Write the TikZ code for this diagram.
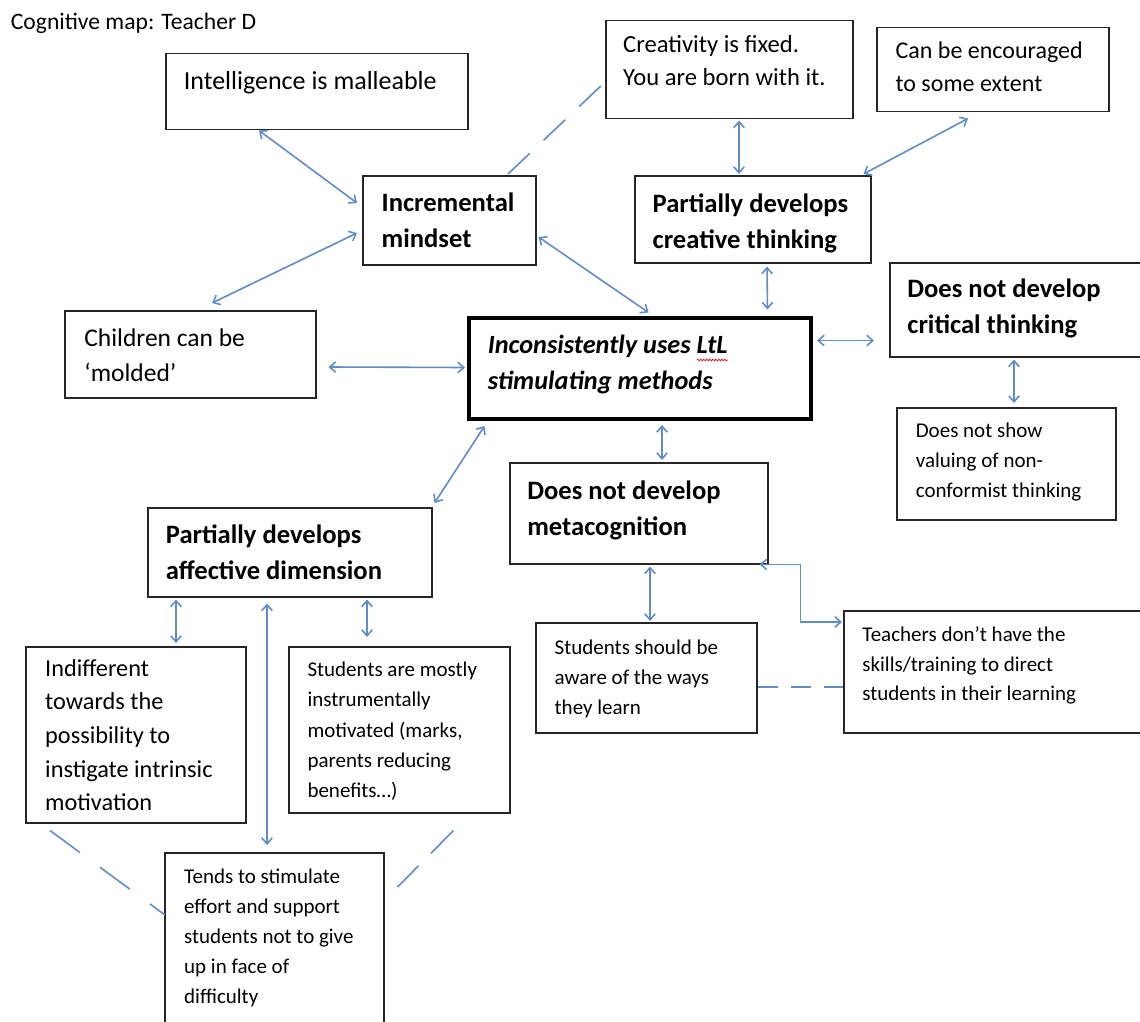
\documentclass[tikz,border=0pt]{standalone}
\usepackage{fontspec}
\setmainfont{Carlito}
\usetikzlibrary{arrows.meta,calc,decorations.pathmorphing}

\definecolor{linkblue}{RGB}{96,140,203}
\definecolor{boxline}{RGB}{38,38,38}

\tikzset{
  card/.style={draw=boxline, line width=1.5pt, anchor=north west, inner sep=0pt},
  keycard/.style={card, line width=4.5pt, draw=black},
  txt/.style={anchor=north west, inner sep=0pt, align=left,
              execute at begin node={\rule{0pt}{.8em}}},
  fbold/.style={font=\fontsize{26.6}{36}\selectfont\bfseries},
  fsmall/.style={font=\fontsize{21}{29.9}\selectfont},
  barb/.tip={Straight Barb[length=6pt,width=10.5pt]},
  link/.style={draw=linkblue, line width=1.6pt, barb-barb},
  tie/.style={draw=linkblue, line width=1.6pt},
}

\begin{document}
\begin{tikzpicture}[x=1pt,y=-1pt]
\useasboundingbox (0,0) rectangle (1140,1022);

% title
\node[txt, font=\fontsize{23.6}{28}\selectfont] (title) at (10.7,10.5) {Cognitive map: Teacher D};

% boxes
\node[card, minimum width=302, minimum height=76]  (intel)  at (165,53) {};
\node[card, minimum width=247, minimum height=98]  (creat)  at (605,20) {};
\node[card, minimum width=232, minimum height=84]  (enc)    at (876,27) {};
\node[card, minimum width=173, minimum height=89]  (incr)   at (362,175) {};
\node[card, minimum width=236, minimum height=87]  (pcreat) at (634,175) {};
\node[card, minimum width=261, minimum height=94]  (crit)   at (889,262) {};
\node[card, minimum width=251, minimum height=87]  (child)  at (64,310) {};
\node[keycard, minimum width=342, minimum height=101] (main) at (466.5,315.5) {};
\node[card, minimum width=219, minimum height=112] (show)   at (896,407) {};
\node[card, minimum width=258, minimum height=101] (meta)   at (509,462) {};
\node[card, minimum width=284, minimum height=89]  (affect) at (147,507) {};
\node[card, minimum width=220, minimum height=176] (indiff) at (25,646) {};
\node[card, minimum width=221, minimum height=166] (mostly) at (288,646) {};
\node[card, minimum width=219, minimum height=188] (tends)  at (164,852) {};
\node[card, minimum width=221, minimum height=110] (aware)  at (535,622) {};
\node[card, minimum width=307, minimum height=122] (teach)  at (843,610) {};

% texts
\node[txt, font=\fontsize{26}{36}\selectfont] (intel-t) at (183.7,68.5) {Intelligence is malleable};
\node[txt, font=\fontsize{24.6}{32.7}\selectfont] (creat-t) at (623,35.3) {Creativity is fixed.\\You are born with it.};
\node[txt, font=\fontsize{24}{32.5}\selectfont] (enc-t) at (895.4,41.8) {Can be encouraged\\to some extent};
\node[txt, fbold] (incr-t) at (381.5,193) {Incremental\\mindset};
\node[txt, fbold] (pcreat-t) at (652.5,193.5) {Partially develops\\creative thinking};
\node[txt, fbold] (crit-t) at (907.2,279) {Does not develop\\critical thinking};
\node[txt, font=\fontsize{25.5}{35.5}\selectfont] (child-t) at (84.2,328.3) {Children can be\\‘molded’};
\node[txt, font=\fontsize{26.3}{36}\selectfont\bfseries\itshape] (main-t) at (487.6,334.7) {Inconsistently uses LtL\\stimulating methods};
\node[txt, font=\fontsize{21}{30.2}\selectfont] (show-t) at (915.6,422.5) {Does not show\\valuing of non-\\conformist thinking};
\node[txt, fbold] (meta-t) at (527.1,480.3) {Does not develop\\metacognition};
\node[txt, font=\fontsize{26.6}{35.5}\selectfont\bfseries] (affect-t) at (165.7,524.7) {Partially develops\\affective dimension};
\node[txt, font=\fontsize{24.3}{33.6}\selectfont] (indiff-t) at (45,659.3) {Indifferent\\towards the\\possibility to\\instigate intrinsic\\motivation};
\node[txt, font=\fontsize{21}{30.3}\selectfont] (mostly-t) at (307.3,661.9) {Students are mostly\\instrumentally\\motivated (marks,\\parents reducing\\benefits…)};
\node[txt, fsmall] (tends-t) at (184,868.9) {Tends to stimulate\\effort and support\\students not to give\\up in face of\\difficulty};
\node[txt, font=\fontsize{21}{30}\selectfont] (aware-t) at (554.5,640.2) {Students should be\\aware of the ways\\they learn};
\node[txt, font=\fontsize{21}{29.8}\selectfont] (teach-t) at (862.2,626.2) {Teachers don’t have the\\skills/training to direct\\students in their learning};

% spell-check squiggle under "LtL"
\draw[red, line width=0.6pt, decorate, decoration={zigzag, segment length=3pt, amplitude=1pt}]
  (697,360) -- (728,360);

% two-way connectors
\draw[link] ([shift={(94,0)}]intel.south west) -- ([shift={(-5,28)}]incr.north west);
\draw[link] ([shift={(-5,58)}]incr.north west) -- ([shift={(148,-7)}]child.north west);
\draw[link] ([shift={(2,62)}]incr.north east) -- ([shift={(182,-3)}]main.north west);
\draw[link] ([shift={(134,1)}]creat.south west) -- ([shift={(105,-1)}]pcreat.north west);
\draw[link] ([shift={(92,6)}]enc.south west) -- ([shift={(-8,-1)}]pcreat.north east);
\draw[link] ([shift={(133,3)}]pcreat.south west) -- ([shift={(301,-6)}]main.north west);
\draw[link] ([shift={(4,25)}]main.north east) -- ([shift={(-15,78.5)}]crit.north west);
\draw[link] ([shift={(125,2)}]crit.south west) -- ([shift={(118,-4)}]show.north west);
\draw[link] ([shift={(12,57)}]child.north east) -- ([shift={(-1.5,52)}]main.north west);
\draw[link] ([shift={(195.5,4)}]main.south west) -- ([shift={(153,-2)}]meta.north west);
\draw[link] ([shift={(18,5)}]main.south west) -- ([shift={(2,-4)}]affect.north east);
\draw[link] ([shift={(29,2)}]affect.south west) -- ([shift={(151,-3)}]indiff.north west);
\draw[link] ([shift={(120,6)}]affect.south west) -- ([shift={(103,-7)}]tends.north west);
\draw[link] ([shift={(220,2)}]affect.south west) -- ([shift={(79,-9)}]mostly.north west);
\draw[link] ([shift={(141,2)}]meta.south west) -- ([shift={(115,-1)}]aware.north west);
\draw[link] ([shift={(-9,0)}]meta.south east) -- ++(41,0) |- ([shift={(-1,12)}]teach.north west);

% dashed associations
\draw[tie, dash pattern=on 30pt off 19pt] ([shift={(146,-1)}]incr.north west) -- ([shift={(0,62)}]creat.north west);
\draw[tie, dash pattern=on 20pt off 13pt] ([shift={(0,65)}]aware.north east) -- ([shift={(0,77)}]teach.north west);
\draw[tie, dash pattern=on 37pt off 25pt] ([shift={(25,7)}]indiff.south west) -- ([shift={(1,63)}]tends.north west);
\coordinate (mostly-end) at ([shift={(13,35)}]tends.north east);
\draw[tie, dash pattern=on 32pt off 18pt] ([shift={(-57,17)}]mostly.south east) -- (mostly-end);

\end{tikzpicture}
\end{document}
